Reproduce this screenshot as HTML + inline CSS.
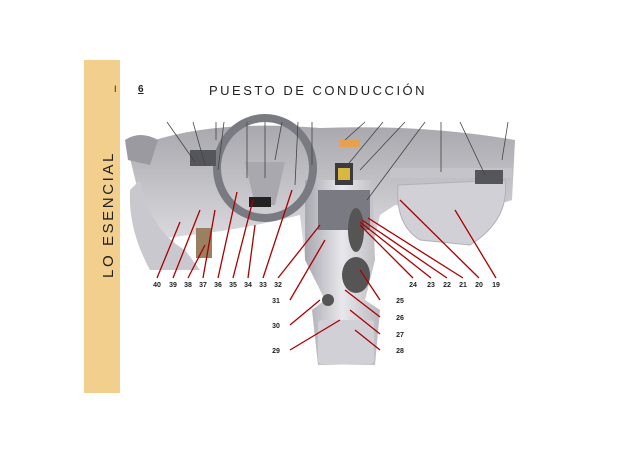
<!DOCTYPE html><html><head><style>body{margin:0;background:#fff}svg{display:block}</style></head><body>
<svg width="640" height="452" xmlns="http://www.w3.org/2000/svg" font-family="Liberation Sans, sans-serif">
<defs>
<linearGradient id="g" x1="0" y1="0" x2="0" y2="1"><stop offset="0" stop-color="#a8a8ae"/><stop offset="1" stop-color="#e2e2e6"/></linearGradient>
<linearGradient id="c" x1="0" y1="0" x2="1" y2="0"><stop offset="0" stop-color="#a8a8b0"/><stop offset=".5" stop-color="#e8e8ec"/><stop offset="1" stop-color="#b8b8be"/></linearGradient>
</defs>
<rect x="84" y="60" width="36" height="333" fill="#f3cf8e"/>
<text x="0" y="0" transform="translate(113,278) rotate(-90)" font-size="15" letter-spacing="2.6" fill="#222">LO ESENCIAL</text>
<text x="114" y="92" font-size="9" fill="#222">I</text>
<text x="138" y="92" font-size="10" font-weight="bold" fill="#222" text-decoration="underline">6</text>
<text x="209" y="95" font-size="13" letter-spacing="2.5" fill="#222">PUESTO DE CONDUCCIÓN</text>
<!-- dashboard -->
<path d="M128 150 Q200 118 320 128 Q420 124 515 140 L512 200 Q470 215 395 205 L380 215 L370 260 L305 260 L300 215 Q240 230 190 235 L150 240 Z" fill="url(#g)"/>
<path d="M125 140 Q140 130 158 140 L150 165 L128 160 Z" fill="#9a9aa0"/>
<path d="M398 185 L505 180 Q510 220 470 245 L420 240 Q395 225 398 185Z" fill="#d0d0d6" stroke="#b0b0b6"/>
<path d="M390 168 L512 168 L512 178 L390 178Z" fill="#c4c4ca"/>
<path d="M305 180 L372 180 L375 260 L365 300 L380 310 L375 365 L318 365 L312 310 L325 300 L305 260Z" fill="url(#c)"/>
<rect x="318" y="190" width="52" height="40" fill="#7a7a82"/>
<rect x="335" y="163" width="18" height="22" fill="#3a3a40"/><rect x="338" y="168" width="12" height="12" fill="#d8b840"/>
<rect x="340" y="140" width="20" height="7" fill="#e8a050"/>
<rect x="318" y="320" width="56" height="44" rx="4" fill="#d0d0d6"/>
<ellipse cx="356" cy="230" rx="8" ry="22" fill="#555"/>
<ellipse cx="356" cy="275" rx="14" ry="18" fill="#555"/>
<circle cx="328" cy="300" r="6" fill="#555"/>
<!-- steering wheel -->
<ellipse cx="265" cy="168" rx="48" ry="50" fill="none" stroke="#7a7a82" stroke-width="8"/>
<path d="M245 162 L285 162 L275 205 L255 205Z" fill="#a8a8ae"/>
<rect x="249" y="197" width="22" height="10" fill="#222"/>
<rect x="190" y="150" width="26" height="16" fill="#55555c"/>
<rect x="475" y="170" width="28" height="14" fill="#55555c"/>
<path d="M140 180 Q150 230 185 250 L200 270 L150 270 Q128 230 130 190Z" fill="#c8c8ce"/>
<rect x="196" y="228" width="16" height="30" fill="#9a8060"/>
<g stroke="#444" stroke-width="0.8">
<path d="M167 122 L195 162M193 122 L205 165M216 122 L216 140M224 122 L218 170M247 122 L247 178M265 122 L265 178M282 122 L275 160M298 122 L295 185M312 122 L312 165M365 122 L345 140M383 122 L345 168M405 122 L360 170M425 122 L367 200M441 122 L441 172M460 122 L485 175M508 122 L502 160"/>
</g>
<g stroke="#a00" stroke-width="1.3" fill="none">
<path d="M157 278 L180 222M173 278 L200 210M188 278 L205 245M203 278 L215 210M218 278 L237 192M233 278 L253 200M248 278 L255 225M263 278 L292 190M278 278 L320 225M413 278 L360 225M431 278 L360 222M447 278 L362 220M463 278 L368 218M479 278 L400 200M496 278 L455 210M290 300 L325 240M380 300 L360 270M290 325 L320 300M380 317 L345 290M380 334 L350 310M290 350 L340 320M380 350 L355 330"/>
</g>
<g font-size="7" font-weight="bold" fill="#222" text-anchor="middle">
<text x="157" y="287">40</text><text x="173" y="287">39</text><text x="188" y="287">38</text><text x="203" y="287">37</text><text x="218" y="287">36</text><text x="233" y="287">35</text><text x="248" y="287">34</text><text x="263" y="287">33</text><text x="278" y="287">32</text>
<text x="413" y="287">24</text><text x="431" y="287">23</text><text x="447" y="287">22</text><text x="463" y="287">21</text><text x="479" y="287">20</text><text x="496" y="287">19</text>
<text x="276" y="303">31</text><text x="276" y="328">30</text><text x="276" y="353">29</text>
<text x="400" y="303">25</text><text x="400" y="320">26</text><text x="400" y="337">27</text><text x="400" y="353">28</text>
</g>
</svg></body></html>
